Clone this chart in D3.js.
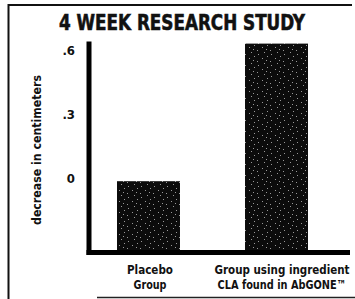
<!DOCTYPE html>
<html>
<head>
<meta charset="utf-8">
<script src="https://cdn.jsdelivr.net/npm/d3@7"></script>
<style>
  body { margin: 0; background: #fff; }
  svg text { font-family: "Liberation Sans Narrow", "DejaVu Sans Condensed", "Roboto", sans-serif; font-weight: bold; fill: #111; }
</style>
</head>
<body>
<div id="chart"></div>
<script>
// chart data
const groups = ["Placebo", "CLA"];
const groupLabels = [["Placebo", "Group"], ["Group using ingredient", "CLA found in AbGONE\u2122"]];
const values = [-0.015, 0.63];
const tickValues = [0, 0.3, 0.6];
const tickLabels = ["0", ".3", ".6"];

const width = 355, height = 299;

const svg = d3.select("#chart").append("svg")
    .attr("width", width)
    .attr("height", height);

// speckled fill like the printed bars
const defs = svg.append("defs");
const pat = defs.append("pattern")
    .attr("id", "speckle")
    .attr("patternUnits", "userSpaceOnUse")
    .attr("width", 13).attr("height", 11);
pat.append("rect").attr("width", 13).attr("height", 11).attr("fill", "#0c0c0c");
[[2, 3], [7, 1], [10, 6], [4, 8], [11, 10], [6, 5]].forEach(p => {
    pat.append("rect").attr("x", p[0]).attr("y", p[1])
        .attr("width", 1).attr("height", 1).attr("fill", "#999");
});

// frame bits
svg.append("line").attr("x1", 8.5).attr("x2", 8.5).attr("y1", 4).attr("y2", 299)
    .attr("stroke", "#111").attr("stroke-width", 2);
svg.append("line").attr("x1", 8).attr("x2", 352).attr("y1", 5).attr("y2", 5)
    .attr("stroke", "#111").attr("stroke-width", 2);
svg.append("line").attr("x1", 97).attr("x2", 355).attr("y1", 297.5).attr("y2", 297.5)
    .attr("stroke", "#222").attr("stroke-width", 1.5);

// title
svg.append("text")
    .attr("x", 182).attr("y", 30)
    .attr("text-anchor", "middle")
    .attr("font-size", 22)
    .attr("stroke", "#111").attr("stroke-width", 0.6)
    .attr("textLength", 246)
    .attr("lengthAdjust", "spacingAndGlyphs")
    .text("4 WEEK RESEARCH STUDY");

// scales
const y = d3.scaleLinear().domain([-0.3375, 0.6]).range([250, 50]);
const x = d3.scaleBand().domain(groups).range([117, 308]).paddingInner(0.508).paddingOuter(0);

// bars drawn from the baseline up
svg.selectAll(".bar")
    .data(values)
    .enter().append("rect")
    .attr("class", "bar")
    .attr("x", (d, i) => x(groups[i]))
    .attr("width", x.bandwidth())
    .attr("y", d => y(d))
    .attr("height", d => y.range()[0] - y(d))
    .attr("fill", "url(#speckle)");

// y axis line and baseline
svg.append("line")
    .attr("x1", 89).attr("x2", 89)
    .attr("y1", y(0.64)).attr("y2", 255)
    .attr("stroke", "#000").attr("stroke-width", 5);
svg.append("line")
    .attr("x1", 86.5).attr("x2", 350)
    .attr("y1", 252.5).attr("y2", 252.5)
    .attr("stroke", "#000").attr("stroke-width", 5);

// tick labels (no tick marks in the original)
const yAxis = d3.axisLeft(y).tickValues(tickValues)
    .tickFormat((d, i) => tickLabels[i]).tickSize(0).tickPadding(0);
const gAxis = svg.append("g").attr("transform", "translate(75,0)").call(yAxis);
gAxis.select(".domain").remove();
gAxis.attr("font-family", null).attr("font-size", null);
gAxis.selectAll("text").attr("font-size", 13);

// y label
svg.append("text")
    .attr("transform", "translate(41,150) rotate(-90)")
    .attr("text-anchor", "middle")
    .attr("font-size", 12)
    .attr("textLength", 150)
    .attr("lengthAdjust", "spacingAndGlyphs")
    .text("decrease in centimeters");

// category labels
const labelCenters = [150, 282];
const labelWidths = [[46, 33], [135, 129]];
groupLabels.forEach((lines, i) => {
    lines.forEach((t, j) => {
        svg.append("text")
            .attr("x", labelCenters[i])
            .attr("y", 274 + j * 15)
            .attr("text-anchor", "middle")
            .attr("font-size", 12)
            .attr("textLength", labelWidths[i][j])
            .attr("lengthAdjust", "spacingAndGlyphs")
            .text(t);
    });
});
</script>
</body>
</html>
